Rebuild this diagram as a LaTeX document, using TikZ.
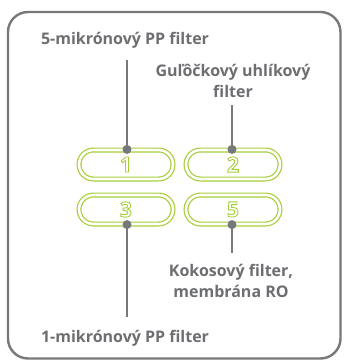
\documentclass[tikz,border=0pt]{standalone}
\usepackage{fontspec}
\setmainfont{Open Sans}
\usetikzlibrary{positioning,shapes.misc,calc}
\definecolor{lime}{RGB}{166,206,57}
\definecolor{slate}{RGB}{119,120,123}
\definecolor{ink}{RGB}{109,110,113}
\tikzset{
  frame/.style={draw=slate,line width=2.4pt,rounded corners=20pt},
  pill/.style={rounded rectangle,draw=lime,line width=1.2pt,double=white,
    double distance=2.6pt,minimum width=94pt,minimum height=29pt,inner sep=0pt,
    font=\fontsize{21}{21}\selectfont\bfseries,text=lime},
  pin/.style={circle,fill=slate,minimum size=9pt,inner sep=0pt},
  wire/.style={draw=slate,line width=2.5pt},
  tag/.style={font=\fontsize{16}{21}\selectfont\bfseries,text=ink,align=center,inner sep=0pt},
}
% hollow digits: stroke only
\newcommand{\hollow}[1]{\special{pdf:code q 1 Tr 0.9 w}#1\special{pdf:code Q}}
\begin{document}
\begin{tikzpicture}[x=1pt,y=-1pt]
  \useasboundingbox (0,0) rectangle (343,361);
  \draw[frame] (8,12) rectangle (340.5,358.5);
  % filters
  \node[pill] (p1) at (126,164.5) {\hollow{1}};
  \node[pill] (p2) at (233,164.5) {\hollow{2}};
  \node[pill] (p3) at (126,209.5) {\hollow{3}};
  \node[pill] (p5) at (233,209.5) {\hollow{5}};
  % labels
  \node[tag] (t1) at (125,40) {5-mikrónový PP filter};
  \node[tag] (t2) at (233,81) {Guľôčkový uhlíkový\\filter};
  \node[tag] (t5) at (231,281) {Kokosový filter,\\membrána RO};
  \node[tag] (t3) at (125,338) {1-mikrónový PP filter};
  % pins
  \node[pin] (d1) at ([xshift=1pt]p1.north) {};
  \node[pin] (d2) at ([xshift=-1pt]p2.north) {};
  \node[pin] (d3) at ([xshift=1pt]p3.south) {};
  \node[pin] (d5) at ([xshift=-1pt]p5.south) {};
  \draw[wire] (d1.center) -- (d1 |- 0,60);
  \draw[wire] (d2.center) -- (d2 |- 0,105);
  \draw[wire] (d3.center) -- (d3 |- 0,317);
  \draw[wire] (d5.center) -- (d5 |- 0,253);
\end{tikzpicture}
\end{document}
